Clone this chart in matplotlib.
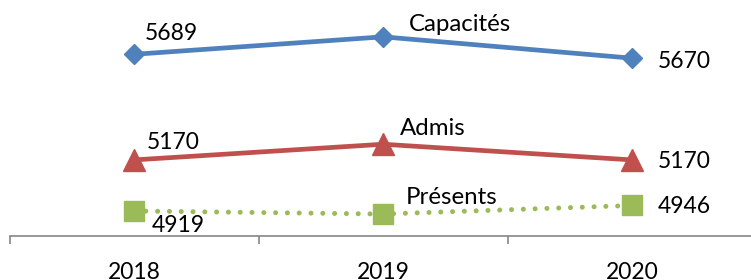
import matplotlib
matplotlib.use("Agg")
import matplotlib.pyplot as plt

years = ["2018", "2019", "2020"]
capacites = [5689, 5775, 5670]
admis = [5170, 5247, 5170]
presents = [4919, 4904, 4946]
series_names = ["Capacités", "Admis", "Présents"]

plt.rcParams['font.family'] = ['Lato', 'DejaVu Sans']

fig = plt.figure(figsize=(7.51, 2.80), dpi=100)
ax = fig.add_axes([9.5/751, 44/280, 747/751, 236/280])

x = list(range(len(years)))
blue, red, green = "#4F81BD", "#C0504D", "#9BBB59"

ax.plot(x, capacites, color=blue, lw=3.4, marker='D', ms=10.5, mfc=blue, mec=blue,
        solid_capstyle='round', zorder=3)
ax.plot(x, admis, color=red, lw=3.4, marker='^', ms=16, mfc=red, mec=red, zorder=3)
ax.plot(x, presents, color=green, lw=3.6, ls=(0, (0.01, 2.35)), dash_capstyle='round',
        marker='s', ms=14, mfc=green, mec=green, zorder=3)

fs = 16.5
def lab(xv, yv, txt, dx, dy, size=fs):
    ax.annotate(txt, (xv, yv), xytext=(dx, -dy), textcoords='offset pixels',
                ha='left', va='center', fontsize=size, color='black')

# value labels (pixel offsets: dx right, dy down)
lab(0, capacites[0], str(capacites[0]), 11, -21)
lab(2, capacites[2], str(capacites[2]), 26, 3)
lab(0, admis[0], str(admis[0]), 13, -17)
lab(2, admis[2], str(admis[2]), 26, 2)
lab(0, presents[0], str(presents[0]), 18, 15)
lab(2, presents[2], str(presents[2]), 26, 1)
# series names at 2019
lab(1, capacites[1], series_names[0], 26, -12, 17.3)
lab(1, admis[1], series_names[1], 17, -16, 17.3)
lab(1, presents[1], series_names[2], 23, -17, 17.3)

ax.set_xlim(-0.5, 2.5)
ax.set_ylim(4796, 5956)

for s in ['top', 'right', 'left']:
    ax.spines[s].set_visible(False)
ax.spines['bottom'].set_color('#868686')
ax.spines['bottom'].set_linewidth(1.2)
ax.set_yticks([])
ax.set_xticks(x)
ax.set_xticklabels(years, fontsize=fs)
ax.tick_params(axis='x', which='major', length=0, pad=19)
ax.set_xticks([-0.5, 0.5, 1.5, 2.5], minor=True)
ax.tick_params(axis='x', which='minor', length=6, width=1.2, color='#868686', direction='out')

fig.savefig("out.png", dpi=100)
